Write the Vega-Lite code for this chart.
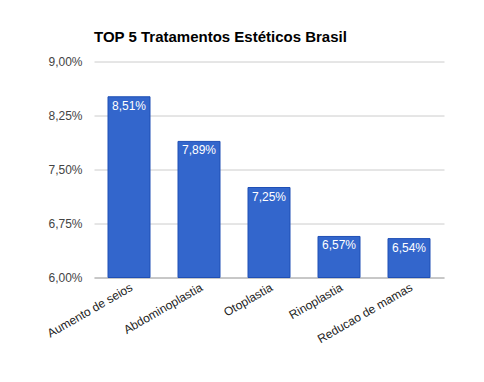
{
  "$schema": "https://vega.github.io/schema/vega-lite/v6.json",
  "width": 350,
  "height": 216,
  "autosize": "none",
  "padding": {"left": 94, "top": 61.5, "right": 40, "bottom": 104.5},
  "background": "white",
  "title": {
    "text": "TOP 5 Tratamentos Estéticos Brasil",
    "anchor": "start",
    "frame": "group",
    "font": "Liberation Sans",
    "fontSize": 15,
    "fontWeight": "bold",
    "color": "#000000",
    "offset": 11
  },
  "data": {
    "values": [
      {"tratamento": "Aumento de seios", "valor": 8.51, "rotulo": "8,51%"},
      {"tratamento": "Abdominoplastia", "valor": 7.89, "rotulo": "7,89%"},
      {"tratamento": "Otoplastia", "valor": 7.25, "rotulo": "7,25%"},
      {"tratamento": "Rinoplastia", "valor": 6.57, "rotulo": "6,57%"},
      {"tratamento": "Reducao de mamas", "valor": 6.54, "rotulo": "6,54%"}
    ]
  },
  "encoding": {
    "x": {
      "field": "tratamento",
      "type": "nominal",
      "sort": null,
      "scale": {"paddingInner": 0.4, "paddingOuter": 0.2},
      "axis": {
        "title": null,
        "labelAngle": -30,
        "labelAlign": "right",
        "labelBaseline": "top",
        "labelFont": "Liberation Sans",
        "labelFontSize": 12,
        "labelColor": "#222222",
        "labelPadding": 4,
        "labelOverlap": false,
        "ticks": false,
        "domain": true,
        "domainColor": "#aaaaaa",
        "grid": false
      }
    },
    "y": {
      "field": "valor",
      "type": "quantitative",
      "scale": {"domain": [6, 9], "zero": false, "nice": false},
      "axis": {
        "title": null,
        "values": [6, 6.75, 7.5, 8.25, 9],
        "labelExpr": "replace(format(datum.value, '.2f'), '.', ',') + '%'",
        "labelFont": "Liberation Sans",
        "labelFontSize": 12,
        "labelColor": "#444444",
        "labelPadding": 12,
        "ticks": false,
        "domain": false,
        "grid": true,
        "gridColor": "#cccccc"
      }
    }
  },
  "layer": [
    {
      "mark": {"type": "bar", "color": "#3366cc", "stroke": "#1f4fb5", "strokeWidth": 1},
      "encoding": {"y2": {"datum": 6}}
    },
    {
      "mark": {
        "type": "text",
        "color": "white",
        "baseline": "top",
        "dy": 4,
        "font": "Liberation Sans",
        "fontSize": 12
      },
      "encoding": {
        "text": {"field": "rotulo"}
      }
    }
  ],
  "config": {"view": {"stroke": null}}
}
